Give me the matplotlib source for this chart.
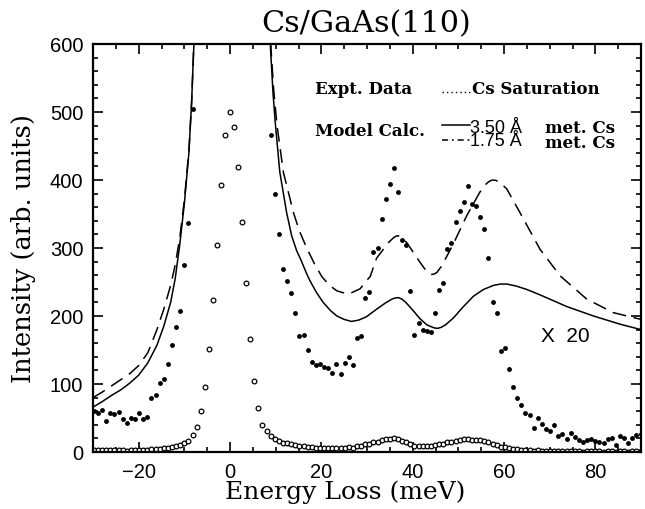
import numpy as np
import matplotlib
matplotlib.use("Agg")
import matplotlib.pyplot as plt
from matplotlib.ticker import MultipleLocator
from matplotlib.lines import Line2D

# ---------------- data ----------------
energy_start = -29.8   # meV, first sample
energy_step = 0.9      # meV, sampling step of the spectrum

# measured EELS intensity (x1 scale)
counts = [
    3.0, 2.9, 3.1, 2.25, 2.85, 2.8, 2.95, 2.43, 2.15, 2.5,
    2.43, 2.9, 2.45, 2.55, 4.0, 4.2, 5.1, 5.35, 6.45, 7.85,
    9.2, 10.4, 13.75, 16.85, 25.25, 37, 61, 96, 152, 223,
    305, 393, 466, 500, 478, 419, 338, 249, 166, 105,
    64, 40, 31, 23.3, 19.0, 16.05, 13.45, 12.55, 11.7, 10.2,
    8.5, 8.63, 7.5, 6.65, 6.4, 6.5, 6.23, 6.18, 5.8, 6.5,
    5.75, 6.55, 7.0, 6.4, 8.4, 8.55, 11.3, 11.75, 14.7, 15.0,
    17.1, 18.6, 19.7, 20.9, 19.15, 15.6, 15.25, 11.85, 8.6, 9.45,
    9.0, 8.9, 8.8, 10.2, 11.9, 12.4, 14.9, 15.35, 16.9, 17.7,
    18.4, 19.55, 18.25, 18.1, 17.3, 16.4, 14.25, 11.05, 10.2, 7.4,
    7.65, 6.1, 4.8, 4.0, 3.45, 2.9, 2.7, 1.8, 2.5, 2.05,
    1.7, 1.55, 1.95, 1.2, 1.3, 0.95, 1.4, 1.1, 0.9, 0.7,
    0.9, 0.95, 0.83, 0.75, 0.65, 0.95, 1.0, 0.5, 1.2, 1.0,
    0.65, 1.05, 1.25, 1.35,
]
magnification = 20

# model calculation, 3.50 A metallic Cs (solid)
solid_e = [-30, -28, -26, -24, -22, -20, -18, -16, -14.5, -13, -12, -11, -10,
           -9, -8.4, -8.0, -7.6,
           8.6, 8.9, 9.4, 9.9, 10.9, 12.4, 13.5, 14.6, 15.5, 16.8, 17.5, 18.9,
           20.4, 22.0, 23.4, 25.0, 26.6, 28.2, 29.9, 32.1, 34.0, 35.5, 36.2,
           36.9, 37.6, 38.5, 40.1, 41.6, 43.1, 44.5, 45.1, 45.6, 46.3, 47.2,
           48.9, 51.0, 53.3, 55.5, 57.7, 59.2, 60.6, 62.7, 65.0, 67.2, 69.3,
           73.7, 79.6, 85.4, 90]
solid_i = [66, 74, 83, 91, 101, 113, 131, 157, 185, 220, 255, 305, 365,
           440, 515, 585, 640,
           640, 590, 530, 485, 412, 352, 318, 296, 283, 262, 252, 235,
           220, 208, 200, 195, 192, 194, 199, 210, 219, 225, 226.5,
           227, 225, 220, 208, 196, 187, 183, 182, 182, 183.5, 187,
           197, 213, 229, 239, 245, 247, 247, 244, 239, 233, 227,
           214, 200, 188, 180]

# model calculation, 1.75 A metallic Cs (dashed)
dashed_e = [-30, -28, -26, -24, -22, -20, -18, -16, -14.5, -13, -12, -11, -10,
            -9, -8.4, -8.0, -7.6,
            8.7, 9.0, 9.6, 10.3, 11.7, 13.9, 15.2, 16.8, 18.4, 20.1, 21.8,
            23.4, 25.9, 28.5, 29.9, 30.7, 32.1, 34.7, 35.8, 36.4, 36.9, 37.6,
            38.7, 40.2, 41.6, 43.0, 43.6, 44.2, 44.8, 45.3, 46.4, 48.9, 51.8,
            54.7, 56.2, 56.9, 57.5, 58.2, 59.0, 60.6, 63.5, 67.9, 72.3, 78.1,
            83.9, 90]
dashed_i = [80, 88, 97, 106, 115, 127, 146, 180, 210, 245, 275, 315, 370,
            443, 515, 585, 640,
            640, 590, 530, 480, 411, 352, 325, 300, 278, 258, 245,
            237, 232, 240, 252, 258, 285, 308, 315, 317.5, 318, 315,
            308, 293, 279, 266, 262.5, 261, 262, 264, 274, 306, 347,
            382, 395, 398.5, 400, 399.5, 397, 387, 352, 298, 259, 225,
            205, 195]

x_ticks_major, x_ticks_minor = 20, 5
y_ticks_major, y_ticks_minor = 100, 20

# ---------------- figure ----------------
W, H = 645, 510
fig = plt.figure(figsize=(W / 100, H / 100), dpi=100)
ax = fig.add_axes([93 / W, 57 / H, 548 / W, 408 / H])

energy = energy_start + energy_step * np.arange(len(counts))
counts_arr = np.asarray(counts, dtype=float)
mag = counts_arr * magnification
vis = mag <= 600

ax.plot(solid_e, solid_i, color="black", lw=1.1, solid_joinstyle="round")
ax.plot(dashed_e, dashed_i, color="black", lw=1.1, dashes=(9, 5))
ax.plot(energy[vis], mag[vis], "o", color="black", ms=3.5, mew=0)
ax.plot(energy, counts_arr, "o", mfc="white", mec="black", ms=3.4, mew=0.9)

ax.set_xlim(-30, 90)
ax.set_ylim(0, 600)
ax.xaxis.set_major_locator(MultipleLocator(x_ticks_major))
ax.xaxis.set_minor_locator(MultipleLocator(x_ticks_minor))
ax.yaxis.set_major_locator(MultipleLocator(y_ticks_major))
ax.yaxis.set_minor_locator(MultipleLocator(y_ticks_minor))
ax.tick_params(which="both", direction="in", top=True, right=True,
               width=1.2, colors="black")
ax.tick_params(which="major", length=7, labelsize=14.5, pad=7)
ax.tick_params(which="minor", length=3.6)
for lab in ax.get_xticklabels() + ax.get_yticklabels():
    lab.set_family("Liberation Sans")
for sp in ax.spines.values():
    sp.set_linewidth(1.6)

ax.set_xlabel("Energy Loss (meV)", family="DejaVu Serif", fontsize=18)
ax.set_ylabel("Intensity (arb. units)", family="DejaVu Serif", fontsize=18.5)
ax.xaxis.set_label_coords((345 - 93) / 548, (453 - 480) / 408)
ax.yaxis.set_label_coords((36 - 93) / 548, 0.50)

def ptxt(px, py, s, **kw):
    fig.text(px / W, 1 - py / H, s, va="center", ha="left", **kw)

fig.text(366 / W, 1 - 24 / H, "Cs/GaAs(110)", family="DejaVu Serif",
         fontsize=21.8, ha="center", va="center")

bold = dict(family="DejaVu Serif", fontweight="bold", fontsize=12)
ptxt(315, 90, "Expt. Data", **bold)
ptxt(472, 90, "Cs Saturation", **bold)
ptxt(315, 132, "Model Calc.", **bold)
ptxt(470, 135, "3.50 Å\n1.75 Å", family="Liberation Sans", fontsize=13,
     linespacing=0.72)
ptxt(545, 136, "met. Cs\nmet. Cs", linespacing=0.78, **bold)
ptxt(541, 336, "X  20", family="Liberation Sans", fontsize=15)

def fig_line(x0, x1, py, **kw):
    fig.add_artist(Line2D([x0 / W, x1 / W], [1 - py / H, 1 - py / H],
                          transform=fig.transFigure, color="black", **kw))

fig_line(442, 470, 93, lw=1.0, dashes=(1, 2.2))
fig_line(442, 470, 125.5, lw=1.1)
fig_line(442, 470, 141, lw=1.1, dashes=(4, 2.5, 1.2, 2.5))

fig.savefig("out.png", dpi=100)
